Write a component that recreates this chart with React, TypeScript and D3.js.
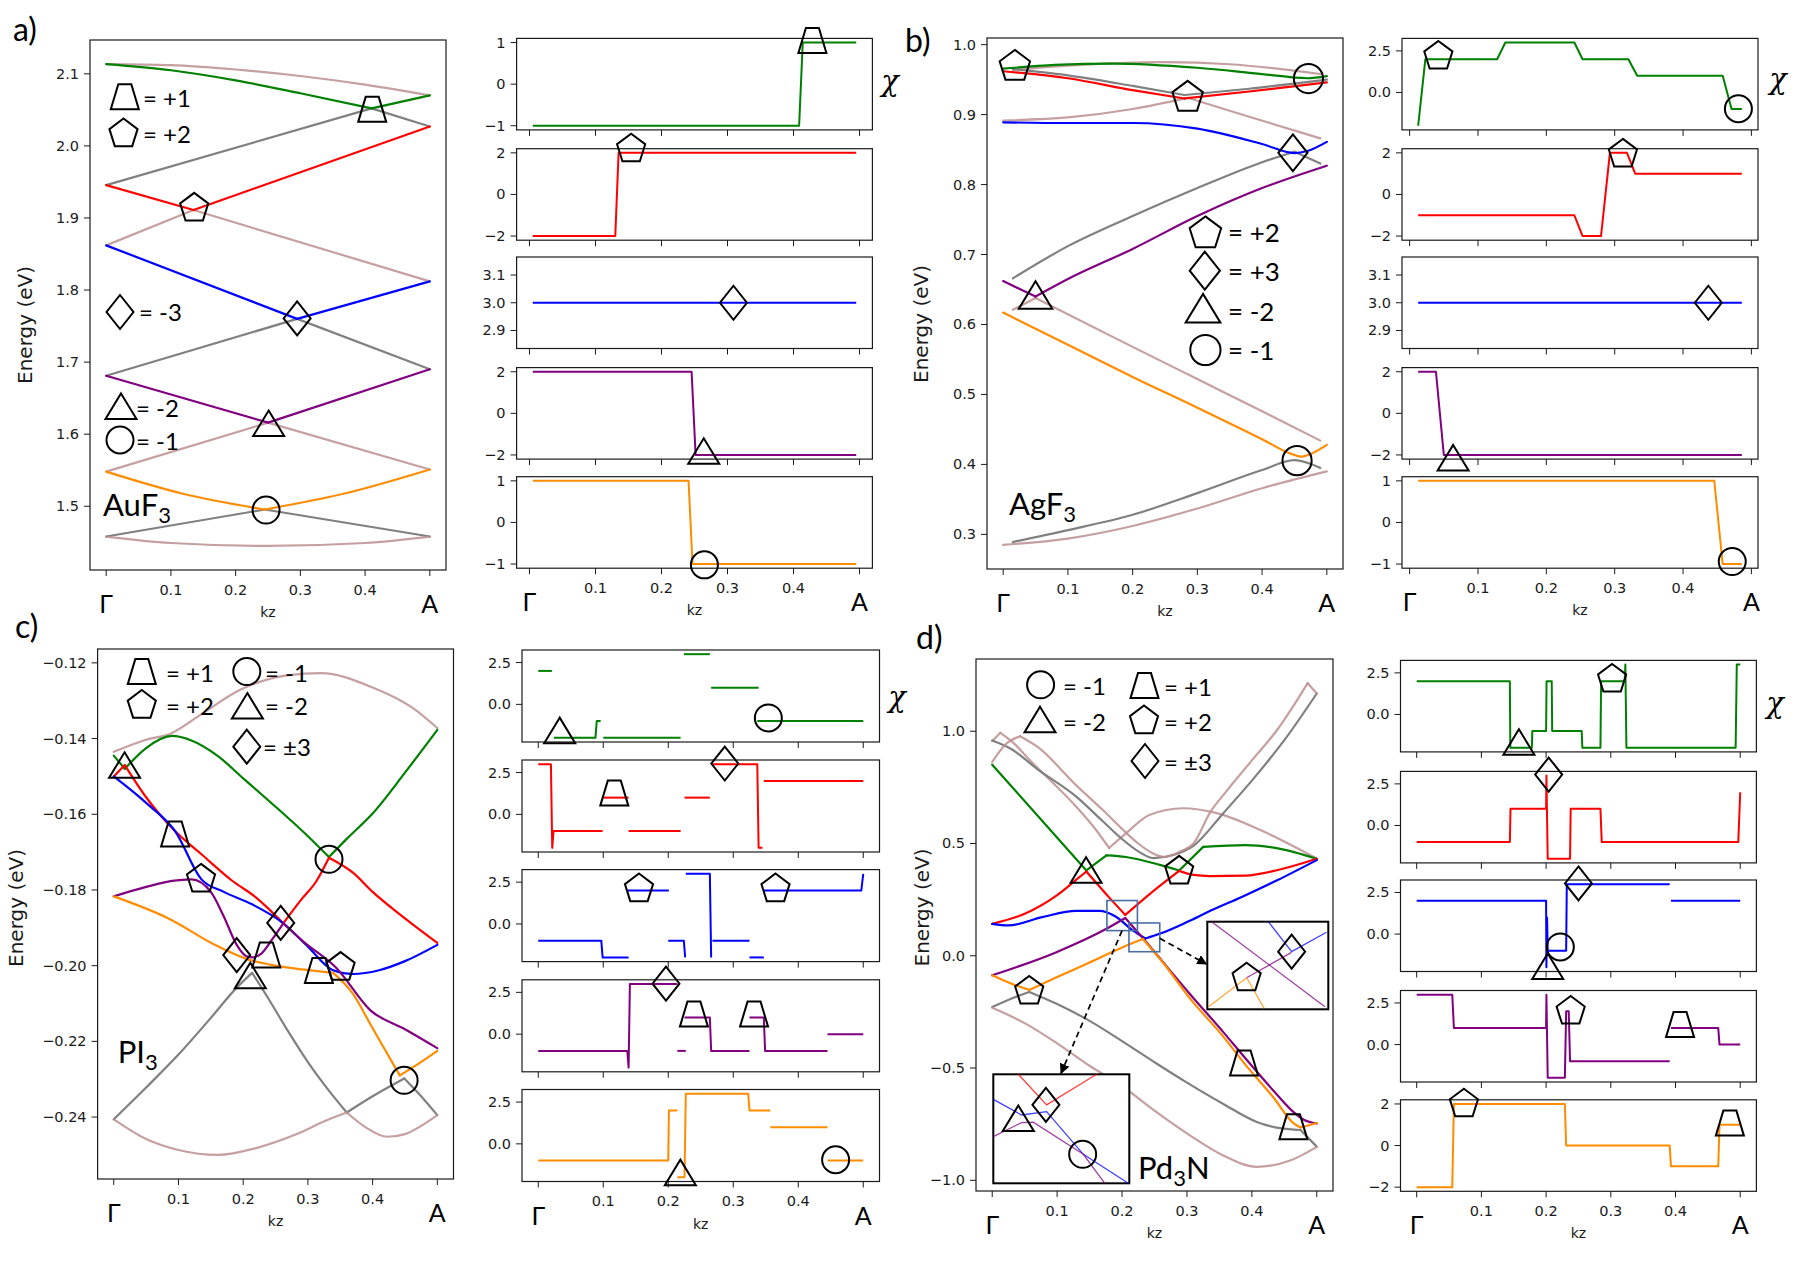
import React from "react";
import * as d3 from "d3";

type Pt = [number, number];
type Band = { s: string; p: Pt[][] };
type Mk = { m: string; k: number; v: number };
type ChiSub = { s: string; ticks: number[]; dec: number; segs: Pt[][] };
type ChiMk = { i: number; m: string; k: number; v: number };

// ---------------- shared axis values ----------------
const K_TICKS = [0, 0.1, 0.2, 0.3, 0.4, 0.5];
const K_LABELS = ["Γ", "0.1", "0.2", "0.3", "0.4", "A"];

// ---------------- (a) AuF3 ----------------
const aYTicks = [1.5, 1.6, 1.7, 1.8, 1.9, 2.0, 2.1];
const aBands: Band[] = [
  { s: "brown", p: [[[0, 2.1135], [0.1, 2.112], [0.2, 2.106], [0.3, 2.097], [0.4, 2.085], [0.5, 2.07]]] },
  { s: "gray", p: [[[0, 1.9455], [0.41, 2.052]], [[0.41, 2.052], [0.5, 2.027]]] },
  { s: "brown", p: [[[0, 1.862], [0.135, 1.911]], [[0.135, 1.911], [0.5, 1.812]]] },
  { s: "gray", p: [[[0, 1.681], [0.295, 1.76]], [[0.295, 1.76], [0.5, 1.69]]] },
  { s: "brown", p: [[[0, 1.548], [0.25, 1.616]], [[0.25, 1.616], [0.5, 1.551]]] },
  { s: "gray", p: [[[0, 1.458], [0.245, 1.4955]], [[0.245, 1.4955], [0.5, 1.458]]] },
  { s: "brown", p: [[[0, 1.458], [0.1, 1.449], [0.25, 1.445], [0.4, 1.449], [0.5, 1.458]]] },
  { s: "green", p: [[[0, 2.1135], [0.1, 2.105], [0.2, 2.091], [0.3, 2.073], [0.41, 2.052]], [[0.41, 2.052], [0.5, 2.07]]] },
  { s: "red", p: [[[0, 1.9455], [0.135, 1.911]], [[0.135, 1.911], [0.5, 2.027]]] },
  { s: "blue", p: [[[0, 1.862], [0.295, 1.76]], [[0.295, 1.76], [0.5, 1.812]]] },
  { s: "purple", p: [[[0, 1.681], [0.25, 1.616]], [[0.25, 1.616], [0.5, 1.69]]] },
  { s: "orange", p: [[[0, 1.548], [0.12, 1.517], [0.245, 1.4955]], [[0.245, 1.4955], [0.37, 1.518], [0.5, 1.551]]] },
];
const aMarkers: Mk[] = [
  { m: "trap", k: 0.411, v: 2.0507 },
  { m: "pent", k: 0.136, v: 1.9155 },
  { m: "diam", k: 0.295, v: 1.7606 },
  { m: "tri", k: 0.251, v: 1.614 },
  { m: "circ", k: 0.247, v: 1.4947 },
];
const aChi: ChiSub[] = [
  { s: "green", ticks: [-1, 0, 1], dec: 0, segs: [[[0.005, -1], [0.4085, -1], [0.414, 1], [0.495, 1]]] },
  { s: "red", ticks: [-2, 0, 2], dec: 0, segs: [[[0.005, -2], [0.13, -2], [0.135, 2], [0.495, 2]]] },
  { s: "blue", ticks: [2.9, 3.0, 3.1], dec: 1, segs: [[[0.005, 3], [0.495, 3]]] },
  { s: "purple", ticks: [-2, 0, 2], dec: 0, segs: [[[0.005, 2], [0.2456, 2], [0.2517, -2], [0.495, -2]]] },
  { s: "orange", ticks: [-1, 0, 1], dec: 0, segs: [[[0.005, 1], [0.241, 1], [0.247, -1], [0.495, -1]]] },
];
const aChiMarkers: ChiMk[] = [
  { i: 0, m: "trap", k: 0.4286, v: 1.05 },
  { i: 1, m: "pent", k: 0.154, v: 2.25 },
  { i: 2, m: "diam", k: 0.309, v: 3.0 },
  { i: 3, m: "tri", k: 0.264, v: -1.85 },
  { i: 4, m: "circ", k: 0.265, v: -1.02 },
];
const aLegend = [
  { m: "trap", t: "= +1" },
  { m: "pent", t: "= +2" },
  { m: "diam", t: "= -3" },
  { m: "tri", t: "= -2" },
  { m: "circ", t: "= -1" },
];

// ---------------- (b) AgF3 ----------------
const bYTicks = [0.3, 0.4, 0.5, 0.6, 0.7, 0.8, 0.9, 1.0];
const bBands: Band[] = [
  { s: "brown", p: [[[0.015, 0.964], [0.1, 0.97], [0.25, 0.975], [0.35, 0.972], [0.42, 0.966], [0.49, 0.958]]] },
  { s: "gray", p: [[[0.015, 0.965], [0.1, 0.956], [0.2, 0.941], [0.28, 0.928]], [[0.28, 0.928], [0.38, 0.937], [0.5, 0.95]]] },
  { s: "brown", p: [[[0, 0.8916], [0.1, 0.896], [0.2, 0.908], [0.285, 0.924]], [[0.285, 0.924], [0.38, 0.897], [0.49, 0.866]]] },
  { s: "gray", p: [[[0.015, 0.666], [0.1, 0.712], [0.2, 0.755], [0.3, 0.795], [0.4, 0.832], [0.45, 0.847]], [[0.45, 0.847], [0.49, 0.83]]] },
  { s: "brown", p: [[[0.015, 0.621], [0.05, 0.638]], [[0.05, 0.638], [0.2, 0.568], [0.3, 0.522], [0.4, 0.476], [0.49, 0.434]]] },
  { s: "gray", p: [[[0.015, 0.289], [0.1, 0.306], [0.2, 0.328], [0.3, 0.359], [0.4, 0.392], [0.45, 0.406], [0.49, 0.395]]] },
  { s: "brown", p: [[[0, 0.285], [0.1, 0.294], [0.2, 0.312], [0.3, 0.337], [0.4, 0.366], [0.5, 0.39]]] },
  { s: "green", p: [[[0, 0.9656], [0.08, 0.971], [0.17, 0.973], [0.3, 0.967], [0.4, 0.958], [0.47, 0.952], [0.5, 0.955]]] },
  { s: "red", p: [[[0, 0.962], [0.1, 0.952], [0.2, 0.935], [0.28, 0.923]], [[0.28, 0.923], [0.38, 0.933], [0.5, 0.946]]] },
  { s: "blue", p: [[[0, 0.889], [0.1, 0.888], [0.2, 0.888], [0.3, 0.88], [0.4, 0.858], [0.45, 0.845], [0.47, 0.848], [0.5, 0.861]]] },
  { s: "purple", p: [[[0, 0.662], [0.05, 0.64]], [[0.05, 0.64], [0.1, 0.665], [0.2, 0.708], [0.3, 0.755], [0.4, 0.795], [0.5, 0.827]]] },
  { s: "orange", p: [[[0, 0.617], [0.1, 0.571], [0.2, 0.525], [0.3, 0.481], [0.4, 0.436], [0.445, 0.415], [0.46, 0.411], [0.475, 0.415], [0.5, 0.428]]] },
];
const bMarkers: Mk[] = [
  { m: "pent", k: 0.018, v: 0.971 },
  { m: "pent", k: 0.285, v: 0.9267 },
  { m: "circ", k: 0.4716, v: 0.9515 },
  { m: "diam", k: 0.4476, v: 0.8454 },
  { m: "tri", k: 0.05, v: 0.641 },
  { m: "circ", k: 0.454, v: 0.4054 },
];
const bChi: ChiSub[] = [
  { s: "green", ticks: [0, 2.5], dec: 1, segs: [[[0.0125, -2], [0.023, 2], [0.128, 2], [0.14, 3], [0.241, 3], [0.253, 2], [0.32, 2], [0.333, 1], [0.458, 1], [0.471, -1], [0.486, -1]]] },
  { s: "red", ticks: [-2, 0, 2], dec: 0, segs: [[[0.0125, -1], [0.241, -1], [0.253, -2], [0.28, -2], [0.293, 2], [0.318, 2], [0.33, 1], [0.486, 1]]] },
  { s: "blue", ticks: [2.9, 3.0, 3.1], dec: 1, segs: [[[0.0125, 3], [0.486, 3]]] },
  { s: "purple", ticks: [-2, 0, 2], dec: 0, segs: [[[0.0125, 2], [0.0385, 2], [0.05, -2], [0.486, -2]]] },
  { s: "orange", ticks: [-1, 0, 1], dec: 0, segs: [[[0.0125, 1], [0.4457, 1], [0.458, -1], [0.486, -1]]] },
];
const bChiMarkers: ChiMk[] = [
  { i: 0, m: "pent", k: 0.042, v: 2.26 },
  { i: 0, m: "circ", k: 0.481, v: -0.98 },
  { i: 1, m: "pent", k: 0.312, v: 2.0 },
  { i: 2, m: "diam", k: 0.437, v: 3.0 },
  { i: 3, m: "tri", k: 0.0636, v: -2.17 },
  { i: 4, m: "circ", k: 0.472, v: -0.94 },
];
const bLegend = [
  { m: "pent", t: "= +2" },
  { m: "diam", t: "= +3" },
  { m: "tri", t: "= -2" },
  { m: "circ", t: "= -1" },
];

// ---------------- (c) PI3 ----------------
const cYTicks = [-0.24, -0.22, -0.2, -0.18, -0.16, -0.14, -0.12];
const cBands: Band[] = [
  { s: "brown", p: [[[0, -0.1435], [0.046, -0.1405], [0.09, -0.1385], [0.135, -0.1336], [0.197, -0.127], [0.268, -0.1233], [0.32, -0.1227], [0.4, -0.1265], [0.463, -0.132], [0.5, -0.1372]]] },
  { s: "gray", p: [
    [[0, -0.2406], [0.05, -0.2322], [0.1, -0.2235], [0.15, -0.2138], [0.19, -0.2058], [0.2138, -0.2019]],
    [[0.2138, -0.2019], [0.24, -0.209], [0.27, -0.2175], [0.3, -0.2255], [0.33, -0.2325], [0.36, -0.2388]],
    [[0.36, -0.2388], [0.4, -0.2345], [0.449, -0.2298]],
    [[0.449, -0.2298], [0.475, -0.2345], [0.5, -0.2395]]] },
  { s: "brown", p: [
    [[0, -0.2406], [0.05, -0.2458], [0.1, -0.2487], [0.161, -0.25], [0.22, -0.2482], [0.28, -0.2447], [0.33, -0.2408], [0.36, -0.2388]],
    [[0.36, -0.2388], [0.39, -0.2428], [0.4225, -0.2452], [0.45, -0.2445], [0.48, -0.2418], [0.5, -0.2395]]] },
  { s: "green", p: [
    [[0, -0.1445], [0.017, -0.148]],
    [[0.017, -0.148], [0.05, -0.1425], [0.09, -0.1393], [0.12, -0.1405], [0.16, -0.1445], [0.2, -0.1505], [0.25, -0.158], [0.3, -0.1658], [0.3325, -0.1713]],
    [[0.3325, -0.1713], [0.36, -0.1665], [0.4, -0.1598], [0.45, -0.149], [0.5, -0.1377]]] },
  { s: "red", p: [
    [[0, -0.15], [0.017, -0.147]],
    [[0.017, -0.147], [0.05, -0.1555], [0.095, -0.1645], [0.135, -0.1705], [0.1825, -0.1775], [0.22, -0.182], [0.262, -0.1888]],
    [[0.262, -0.1888], [0.29, -0.1825], [0.313, -0.1777], [0.3325, -0.1715]],
    [[0.3325, -0.1715], [0.37, -0.1755], [0.4, -0.1805], [0.45, -0.1875], [0.5, -0.194]]] },
  { s: "blue", p: [[[0, -0.15], [0.05, -0.157], [0.095, -0.1645], [0.1355, -0.1772], [0.17, -0.1805], [0.2138, -0.1838], [0.262, -0.1888], [0.3, -0.195], [0.339, -0.2012], [0.37, -0.2022], [0.41, -0.2012], [0.45, -0.1988], [0.5, -0.1945]]] },
  { s: "purple", p: [
    [[0, -0.1817], [0.05, -0.1792], [0.09, -0.1776], [0.12, -0.1772], [0.15, -0.1805], [0.17, -0.187], [0.19, -0.1945], [0.205, -0.1975], [0.215, -0.1978], [0.228, -0.1968], [0.245, -0.193], [0.262, -0.1888]],
    [[0.262, -0.1888], [0.292, -0.1935], [0.344, -0.2006], [0.3966, -0.2118], [0.45, -0.2168], [0.5, -0.2218]]] },
  { s: "orange", p: [
    [[0, -0.1817], [0.083, -0.1874], [0.161, -0.1949], [0.2085, -0.1984], [0.25, -0.2], [0.292, -0.201], [0.339, -0.2019]],
    [[0.339, -0.2019], [0.37, -0.2075], [0.3966, -0.2155], [0.42, -0.2225], [0.442, -0.229]],
    [[0.442, -0.229], [0.47, -0.226], [0.5, -0.2225]]] },
];
const cMarkers: Mk[] = [
  { m: "tri", k: 0.0167, v: -0.1472 },
  { m: "trap", k: 0.0948, v: -0.1652 },
  { m: "pent", k: 0.1348, v: -0.1768 },
  { m: "diam", k: 0.19, v: -0.1972 },
  { m: "trap", k: 0.2357, v: -0.1972 },
  { m: "tri", k: 0.211, v: -0.2028 },
  { m: "diam", k: 0.258, v: -0.1887 },
  { m: "trap", k: 0.317, v: -0.2013 },
  { m: "pent", k: 0.3505, v: -0.2001 },
  { m: "circ", k: 0.3326, v: -0.1719 },
  { m: "circ", k: 0.4487, v: -0.2303 },
];
const cChi: ChiSub[] = [
  { s: "green", ticks: [0, 2.5], dec: 1, segs: [
    [[0, 2], [0.021, 2]],
    [[0.024, -2], [0.088, -2], [0.09, -1], [0.096, -1]],
    [[0.1, -2], [0.219, -2]],
    [[0.224, 3], [0.264, 3]],
    [[0.266, 1], [0.339, 1]],
    [[0.337, -1], [0.5, -1]]] },
  { s: "red", ticks: [0, 2.5], dec: 1, segs: [
    [[0, 3], [0.0195, 3], [0.0215, -2], [0.0235, -1], [0.099, -1]],
    [[0.099, 1], [0.139, 1]],
    [[0.139, -1], [0.219, -1]],
    [[0.225, 1], [0.264, 1]],
    [[0.268, 3], [0.337, 3], [0.339, -2], [0.345, -2]],
    [[0.347, 2], [0.5, 2]]] },
  { s: "blue", ticks: [0, 2.5], dec: 1, segs: [
    [[0, -1], [0.097, -1], [0.099, -2], [0.139, -2]],
    [[0.137, 2], [0.201, 2]],
    [[0.2, -1], [0.224, -1], [0.226, -2]],
    [[0.227, 3], [0.264, 3], [0.266, -2]],
    [[0.268, -1], [0.325, -1]],
    [[0.325, -2], [0.347, -2]],
    [[0.347, 2], [0.497, 2], [0.5, 3]]] },
  { s: "purple", ticks: [0, 2.5], dec: 1, segs: [
    [[0, -1], [0.137, -1], [0.139, -2], [0.141, 3], [0.214, 3]],
    [[0.214, -1], [0.227, -1]],
    [[0.225, 1], [0.264, 1], [0.266, -1], [0.325, -1]],
    [[0.325, 1], [0.347, 1], [0.349, -1], [0.445, -1]],
    [[0.445, 0], [0.5, 0]]] },
  { s: "orange", ticks: [0, 2.5], dec: 1, segs: [
    [[0, -1], [0.2, -1], [0.201, 2], [0.214, 2]],
    [[0.214, -2], [0.225, -2], [0.227, 3], [0.323, 3], [0.325, 2], [0.357, 2]],
    [[0.357, 1], [0.445, 1]],
    [[0.445, -1], [0.5, -1]]] },
];
const cChiMarkers: ChiMk[] = [
  { i: 0, m: "tri", k: 0.033, v: -1.6 },
  { i: 0, m: "circ", k: 0.354, v: -0.81 },
  { i: 1, m: "trap", k: 0.117, v: 1.27 },
  { i: 1, m: "diam", k: 0.287, v: 3.04 },
  { i: 2, m: "pent", k: 0.155, v: 2.18 },
  { i: 2, m: "pent", k: 0.365, v: 2.18 },
  { i: 3, m: "diam", k: 0.1965, v: 3.02 },
  { i: 3, m: "trap", k: 0.2395, v: 1.2 },
  { i: 3, m: "trap", k: 0.332, v: 1.2 },
  { i: 4, m: "tri", k: 0.2186, v: -1.75 },
  { i: 4, m: "circ", k: 0.4575, v: -0.95 },
];
const cLegend = [
  { m: "trap", t: "= +1" },
  { m: "circ", t: "= -1" },
  { m: "pent", t: "= +2" },
  { m: "tri", t: "= -2" },
  { m: "diam", t: "= ±3" },
];

// ---------------- (d) Pd3N ----------------
const dYTicks = [-1.0, -0.5, 0.0, 0.5, 1.0];
const dBands: Band[] = [
  { s: "brown", p: [
    [[0, 0.956], [0.0125, 0.993]],
    [[0.0125, 0.993], [0.03, 0.955], [0.06, 0.865], [0.129, 0.665], [0.16, 0.56], [0.18, 0.48]],
    [[0.18, 0.48], [0.206, 0.545], [0.242, 0.627], [0.294, 0.657], [0.346, 0.635], [0.413, 0.56], [0.5, 0.433]]] },
  { s: "gray", p: [[[0, 0.959], [0.03, 0.92], [0.07, 0.83], [0.129, 0.71], [0.17, 0.6], [0.2, 0.52], [0.225, 0.465], [0.248, 0.435], [0.28, 0.45], [0.31, 0.49], [0.356, 0.635], [0.4, 0.78], [0.45, 0.96], [0.5, 1.168]]] },
  { s: "brown", p: [
    [[0, 0.863], [0.02, 0.94], [0.043, 0.978]],
    [[0.043, 0.978], [0.07, 0.93], [0.129, 0.76], [0.17, 0.65], [0.2, 0.565], [0.225, 0.5], [0.245, 0.46], [0.265, 0.44], [0.29, 0.465], [0.31, 0.5], [0.336, 0.64], [0.36, 0.73], [0.4, 0.87], [0.44, 1.01], [0.47, 1.14], [0.486, 1.214]],
    [[0.486, 1.214], [0.5, 1.168]]] },
  { s: "gray", p: [
    [[0, -0.228], [0.03, -0.19], [0.057, -0.161]],
    [[0.057, -0.161], [0.1, -0.215], [0.15, -0.29], [0.2, -0.38], [0.253, -0.48], [0.3, -0.565], [0.356, -0.66], [0.4075, -0.74], [0.4436, -0.768], [0.475, -0.776]],
    [[0.475, -0.776], [0.5, -0.85]]] },
  { s: "brown", p: [[[0, -0.232], [0.05, -0.3], [0.1, -0.39], [0.15, -0.49], [0.2, -0.58], [0.25, -0.69], [0.3045, -0.8], [0.356, -0.89], [0.4075, -0.94], [0.459, -0.912], [0.5, -0.851]]] },
  { s: "green", p: [
    [[0, 0.851], [0.145, 0.38]],
    [[0.145, 0.38], [0.176, 0.447]],
    [[0.176, 0.447], [0.206, 0.44], [0.258, 0.405], [0.288, 0.38]],
    [[0.288, 0.38], [0.325, 0.485]],
    [[0.325, 0.485], [0.39, 0.493], [0.44, 0.478], [0.5, 0.432]]] },
  { s: "red", p: [
    [[0, 0.142], [0.05, 0.187], [0.1, 0.27], [0.13, 0.34], [0.145, 0.375]],
    [[0.145, 0.375], [0.18, 0.26], [0.205, 0.182]],
    [[0.205, 0.182], [0.243, 0.276], [0.288, 0.378]],
    [[0.288, 0.378], [0.31, 0.36], [0.335, 0.355], [0.39, 0.357], [0.44, 0.382], [0.5, 0.432]]] },
  { s: "blue", p: [
    [[0, 0.142], [0.025, 0.135], [0.077, 0.172], [0.129, 0.2], [0.165, 0.2], [0.19, 0.175], [0.217, 0.112], [0.236, 0.077]],
    [[0.236, 0.077], [0.26, 0.1], [0.3, 0.15], [0.336, 0.2], [0.387, 0.265], [0.439, 0.336], [0.5, 0.426]]] },
  { s: "purple", p: [
    [[0, -0.087], [0.098, 0.015], [0.176, 0.12], [0.205, 0.168]],
    [[0.205, 0.168], [0.2375, 0.06], [0.268, -0.045], [0.3045, -0.17], [0.356, -0.34], [0.388, -0.45], [0.433, -0.6], [0.46, -0.685], [0.48, -0.73], [0.5, -0.747]]] },
  { s: "orange", p: [
    [[0, -0.087], [0.03, -0.125], [0.057, -0.152]],
    [[0.057, -0.152], [0.1, -0.095], [0.15, -0.03], [0.2, 0.037], [0.232, 0.075]],
    [[0.232, 0.075], [0.263, -0.03], [0.3045, -0.19], [0.356, -0.36], [0.388, -0.478], [0.433, -0.63], [0.464, -0.745], [0.475, -0.765]],
    [[0.475, -0.765], [0.5, -0.745]]] },
];
const dMarkers: Mk[] = [
  { m: "tri", k: 0.1446, v: 0.379 },
  { m: "pent", k: 0.288, v: 0.383 },
  { m: "pent", k: 0.057, v: -0.152 },
  { m: "trap", k: 0.388, v: -0.478 },
  { m: "trap", k: 0.464, v: -0.762 },
];
const dChi: ChiSub[] = [
  { s: "green", ticks: [0, 2.5], dec: 1, segs: [[[0, 2], [0.144, 2], [0.1447, -2], [0.178, -2], [0.1787, -1], [0.2, -1], [0.2007, 2], [0.2087, 2], [0.2094, -1], [0.255, -1], [0.256, -2], [0.284, -2], [0.285, 2], [0.3215, 2], [0.3225, 3], [0.3241, -2], [0.4929, -2], [0.4947, 3], [0.5, 3]]] },
  { s: "red", ticks: [0, 2.5], dec: 1, segs: [[[0, -1], [0.144, -1], [0.145, 1], [0.2, 1], [0.2005, 3], [0.2025, -2], [0.237, -2], [0.238, 1], [0.284, 1], [0.286, -1], [0.497, -1], [0.5, 2]]] },
  { s: "blue", ticks: [0, 2.5], dec: 1, segs: [
    [[0, 2], [0.2, 2], [0.2005, -2], [0.2015, 1], [0.2025, -1], [0.231, -1], [0.232, 3], [0.391, 3]],
    [[0.393, 2], [0.5, 2]]] },
  { s: "purple", ticks: [0, 2.5], dec: 1, segs: [
    [[0, 3], [0.055, 3], [0.0575, 1], [0.2, 1], [0.2005, 3], [0.2025, -2], [0.229, -2], [0.231, 2], [0.235, 2], [0.237, -1], [0.391, -1]],
    [[0.393, 1], [0.466, 1], [0.468, 0], [0.5, 0]]] },
  { s: "orange", ticks: [-2, 0, 2], dec: 0, segs: [[[0, -2], [0.055, -2], [0.0575, 2], [0.229, 2], [0.231, 0], [0.391, 0], [0.393, -1], [0.466, -1], [0.468, 1], [0.5, 1]]] },
];
const dChiMarkers: ChiMk[] = [
  { i: 0, m: "tri", k: 0.158, v: -1.7 },
  { i: 0, m: "pent", k: 0.302, v: 2.2 },
  { i: 1, m: "diam", k: 0.204, v: 3.06 },
  { i: 2, m: "tri", k: 0.2025, v: -1.98 },
  { i: 2, m: "circ", k: 0.222, v: -0.77 },
  { i: 2, m: "diam", k: 0.25, v: 3.04 },
  { i: 3, m: "pent", k: 0.238, v: 2.08 },
  { i: 3, m: "trap", k: 0.407, v: 1.2 },
  { i: 4, m: "pent", k: 0.073, v: 2.06 },
  { i: 4, m: "trap", k: 0.484, v: 1.08 },
];
const dLegend = [
  { m: "circ", t: "= -1" },
  { m: "trap", t: "= +1" },
  { m: "tri", t: "= -2" },
  { m: "pent", t: "= +2" },
  { m: "diam", t: "= ±3" },
];
// zoom boxes (k, E) and inset contents (fractions of inset box)
const dZoomBoxes: [Pt, Pt][] = [
  [[0.1767, 0.246], [0.2237, 0.112]],
  [[0.2107, 0.146], [0.2581, 0.018]],
];
const dInsetRight = [
  { s: "purple", p: [[0.036, 0], [0.972, 0.97]] as Pt[] },
  { s: "blue", p: [[0.504, 0], [0.697, 0.342]] as Pt[] },
  { s: "blue", p: [[0.697, 0.342], [0.985, 0.12]] as Pt[] },
  { s: "purple", p: [[0.325, 0.64], [0.697, 0.35]] as Pt[] },
  { s: "orange", p: [[0.01, 0.97], [0.325, 0.64]] as Pt[] },
  { s: "orange", p: [[0.325, 0.64], [0.47, 0.99]] as Pt[] },
];
const dInsetRightMarkers = [
  { m: "pent", u: 0.325, v: 0.627 },
  { m: "diam", u: 0.697, v: 0.342 },
];
const dInsetLeft = [
  { s: "red", p: [[0.184, 0], [0.392, 0.28], [0.76, 0]] as Pt[] },
  { s: "blue", p: [[0, 0.23], [0.208, 0.373], [0.392, 0.343], [0.662, 0.734], [0.993, 1]] as Pt[] },
  { s: "purple", p: [[0, 0.572], [0.208, 0.443], [0.294, 0.44], [0.662, 0.734], [0.82, 1]] as Pt[] },
];
const dInsetLeftMarkers = [
  { m: "tri", u: 0.184, v: 0.41 },
  { m: "diam", u: 0.387, v: 0.28 },
  { m: "circ", u: 0.657, v: 0.734 },
];

// ---------------- styles ----------------
const COLOR: Record<string, string> = {
  green: "#008000", red: "#ff0000", blue: "#0000ff", purple: "#800080",
  orange: "#ff8c00", gray: "#808080", brown: "#bc8f8f",
};
const INK = "#1a1a1a";
const ANNOT_FONT = "Lato, 'DejaVu Sans', sans-serif";
const TICK_FS = 14.5;

// ---------------- layout ----------------
const LAYOUT: Record<string, any> = {
  a: {
    main: { x0: 90, x1: 446, y0: 40, y1: 570 },
    chi: { x0: 516.6, x1: 872.4, tops: [38.4, 148.7, 257, 367.6, 476.7], h: 91.5 },
    panel: { t: "a)", x: 13, y: 41 },
    name: { base: "AuF", sub: "3", tail: "", x: 103, y: 516 },
    energy: { x: 25, y: 325 },
    chiLabel: { x: 890, y: 81 },
    legend: [[124.8, 96.8, 143, 97.5], [123.5, 132.5, 143, 133], [120, 312, 139, 311], [121, 407, 136, 407], [120, 440, 136, 440]],
    legScale: 1,
    mkScale: 1,
  },
  b: {
    main: { x0: 987, x1: 1343, y0: 38, y1: 569 },
    chi: { x0: 1402, x1: 1758, tops: [38.4, 148.7, 257, 367.6, 476.7], h: 91.5 },
    panel: { t: "b)", x: 905, y: 52 },
    name: { base: "AgF", sub: "3", tail: "", x: 1009, y: 515 },
    energy: { x: 921, y: 324 },
    chiLabel: { x: 1778, y: 79 },
    legend: [[1205.4, 232, 1228, 232], [1204.8, 270.7, 1228, 271], [1203, 309, 1228, 311], [1205.4, 350, 1228, 350]],
    legScale: 1.12,
    mkScale: 1.08,
  },
  c: {
    main: { x0: 97.6, x1: 453.5, y0: 649, y1: 1179 },
    chi: { x0: 522, x1: 879.5, tops: [650, 760, 869.6, 979.8, 1089.5], h: 92 },
    panel: { t: "c)", x: 15, y: 638 },
    name: { base: "PI", sub: "3", tail: "", x: 117.7, y: 1063 },
    energy: { x: 16, y: 908 },
    chiLabel: { x: 897, y: 697 },
    legend: [[141.8, 671.6, 166, 672], [246.8, 671.6, 265, 672], [141.8, 704, 166, 705], [247.4, 706.6, 265, 705], [246.8, 746.7, 263, 746]],
    legScale: 1,
    mkScale: 1,
  },
  d: {
    main: { x0: 976, x1: 1333, y0: 659, y1: 1191 },
    chi: { x0: 1400.5, x1: 1756.4, tops: [660.4, 771.4, 880, 990.5, 1099.8], h: 91.5 },
    panel: { t: "d)", x: 916, y: 649 },
    name: { base: "Pd", sub: "3", tail: "N", x: 1138, y: 1179 },
    energy: { x: 921.5, y: 907.5 },
    chiLabel: { x: 1775, y: 703 },
    legend: [[1040.6, 684.8, 1063, 685], [1144.5, 685.6, 1164, 686], [1040, 720.3, 1063, 721], [1144, 719.5, 1164, 721], [1145, 761, 1164, 761]],
    legScale: 1,
    mkScale: 1,
    insetRight: { x0: 1207.3, y0: 921.7, x1: 1328.3, y1: 1009.3 },
    insetLeft: { x0: 993.3, y0: 1074.3, x1: 1129.3, y1: 1183.3 },
    arrows: [[[0.2, 0.112], [0.106, -0.523]], [[0.2581, 0.0775], [0.33, -0.037]]],
  },
};

// ---------------- helpers ----------------
function padExtent(vals: number[]): [number, number] {
  let lo = d3.min(vals) as number;
  let hi = d3.max(vals) as number;
  if (hi - lo < 1e-9) {
    lo -= 0.05 * Math.abs(lo);
    hi += 0.05 * Math.abs(hi);
  }
  const pad = (hi - lo) * 0.05;
  return [lo - pad, hi + pad];
}
function fmt(v: number, dec: number) {
  return v.toFixed(dec).replace("-", "\u2212");
}
function shapePath(shape: string, s: number): string {
  if (shape === "trap") return `M${-6.5 * s},${-12.5 * s}L${6.5 * s},${-12.5 * s}L${14 * s},${12.5 * s}L${-14 * s},${12.5 * s}Z`;
  if (shape === "pent") {
    const r = 14.8 * s;
    const pts = d3.range(5).map((i) => {
      const a = ((-90 + 72 * i) * Math.PI) / 180;
      return [r * Math.cos(a), r * Math.sin(a) * 1.03 + 1.3 * s];
    });
    return "M" + pts.map((p) => p[0].toFixed(2) + "," + p[1].toFixed(2)).join("L") + "Z";
  }
  if (shape === "diam") return `M0,${-17 * s}L${13.5 * s},0L0,${17 * s}L${-13.5 * s},0Z`;
  if (shape === "tri") return `M0,${-13.5 * s}L${15.5 * s},${12 * s}L${-15.5 * s},${12 * s}Z`;
  const r = 13.5 * s;
  return `M${r},0A${r},${r} 0 1,1 ${-r},0A${r},${r} 0 1,1 ${r},0Z`;
}
function Marker({ m, x, y, s = 1 }: { m: string; x: number; y: number; s?: number }) {
  return <path d={shapePath(m, s)} transform={`translate(${x},${y})`} fill="none" stroke="#000" strokeWidth={2} strokeLinejoin="miter" />;
}

function Frame({ x, y, yTicks, yDec, xLabels }: { x: any; y: any; yTicks: number[]; yDec: number; xLabels: boolean }) {
  const [x0, x1] = x.range();
  const [y1, y0] = y.range();
  return (
    <g>
      <rect x={x0} y={y0} width={x1 - x0} height={y1 - y0} fill="none" stroke={INK} strokeWidth={1.2} />
      {yTicks.map((t) => (
        <g key={"y" + t}>
          <line x1={x0 - 6} x2={x0} y1={y(t)} y2={y(t)} stroke={INK} strokeWidth={1} />
          <text x={x0 - 11} y={y(t)} textAnchor="end" dominantBaseline="central" fontSize={TICK_FS} fill={INK}>
            {fmt(t, yDec)}
          </text>
        </g>
      ))}
      {K_TICKS.map((t, i) => (
        <g key={"x" + i}>
          <line x1={x(t)} x2={x(t)} y1={y1} y2={y1 + 6} stroke={INK} strokeWidth={1} />
          {xLabels &&
            (i === 0 || i === K_TICKS.length - 1 ? (
              <text x={x(t)} y={y1 + 43} textAnchor="middle" fontSize={25} fontFamily={ANNOT_FONT} fill="#000">
                {K_LABELS[i]}
              </text>
            ) : (
              <text x={x(t)} y={y1 + 24.5} textAnchor="middle" fontSize={TICK_FS} fill={INK}>
                {K_LABELS[i]}
              </text>
            ))}
        </g>
      ))}
      {xLabels && (
        <text x={(x0 + x1) / 2} y={y1 + 47} textAnchor="middle" fontSize={14} fill={INK}>
          kz
        </text>
      )}
    </g>
  );
}

function BandPlot({ L, bands, markers, yTicks, yDec }: { L: any; bands: Band[]; markers: Mk[]; yTicks: number[]; yDec: number }) {
  const allK = bands.flatMap((b) => b.p.flat().map((q) => q[0]));
  const allE = bands.flatMap((b) => b.p.flat().map((q) => q[1]));
  const x = d3.scaleLinear().domain(padExtent(allK)).range([L.main.x0, L.main.x1]);
  const y = d3.scaleLinear().domain(padExtent(allE)).range([L.main.y1, L.main.y0]);
  const line = d3
    .line<Pt>()
    .x((d) => x(d[0]))
    .y((d) => y(d[1]))
    .curve(d3.curveMonotoneX);
  return (
    <g>
      {bands.map((b, bi) =>
        b.p.map((piece, pi) => (
          <path key={bi + "-" + pi} d={line(piece) as string} fill="none" stroke={COLOR[b.s]} strokeWidth={2.2} strokeOpacity={b.s === "brown" ? 0.85 : 1} strokeLinecap="round" strokeLinejoin="round" />
        ))
      )}
      <Frame x={x} y={y} yTicks={yTicks} yDec={yDec} xLabels={true} />
      {markers.map((mk, i) => (
        <Marker key={i} m={mk.m} x={x(mk.k)} y={y(mk.v)} s={L.mkScale} />
      ))}
      {L.insetRight && <DExtras L={L} x={x} y={y} />}
    </g>
  );
}

function InsetBox({ box, lines, marks }: { box: any; lines: { s: string; p: Pt[] }[]; marks: { m: string; u: number; v: number }[] }) {
  const u = d3.scaleLinear().domain([0, 1]).range([box.x0, box.x1]);
  const v = d3.scaleLinear().domain([0, 1]).range([box.y0, box.y1]);
  const line = d3
    .line<Pt>()
    .x((d) => u(d[0]))
    .y((d) => v(d[1]));
  return (
    <g>
      <rect x={box.x0} y={box.y0} width={box.x1 - box.x0} height={box.y1 - box.y0} fill="#fff" stroke="#000" strokeWidth={2} />
      {lines.map((l, i) => (
        <path key={i} d={line(l.p) as string} fill="none" stroke={COLOR[l.s]} strokeWidth={1.3} strokeOpacity={0.75} />
      ))}
      {marks.map((mk, i) => (
        <Marker key={i} m={mk.m} x={u(mk.u)} y={v(mk.v)} />
      ))}
    </g>
  );
}

function DExtras({ L, x, y }: { L: any; x: any; y: any }) {
  return (
    <g>
      {dZoomBoxes.map((b, i) => (
        <rect key={i} x={x(b[0][0])} y={y(b[0][1])} width={x(b[1][0]) - x(b[0][0])} height={y(b[1][1]) - y(b[0][1])} fill="none" stroke="#4a6fa5" strokeWidth={1.6} />
      ))}
      {L.arrows.map((a: Pt[], i: number) => (
        <line key={i} x1={x(a[0][0])} y1={y(a[0][1])} x2={x(a[1][0])} y2={y(a[1][1])} stroke="#000" strokeWidth={1.7} strokeDasharray="6,4" markerEnd="url(#ah)" />
      ))}
      <InsetBox box={L.insetRight} lines={dInsetRight} marks={dInsetRightMarkers} />
      <InsetBox box={L.insetLeft} lines={dInsetLeft} marks={dInsetLeftMarkers} />
    </g>
  );
}

function ChiStack({ L, subs, markers }: { L: any; subs: ChiSub[]; markers: ChiMk[] }) {
  const allK = subs.flatMap((s) => s.segs.flat().map((q) => q[0]));
  const x = d3.scaleLinear().domain(padExtent(allK)).range([L.chi.x0, L.chi.x1]);
  return (
    <g>
      {subs.map((sub, i) => {
        const top = L.chi.tops[i];
        const y = d3
          .scaleLinear()
          .domain(padExtent(sub.segs.flat().map((q) => q[1])))
          .range([top + L.chi.h, top]);
        const line = d3
          .line<Pt>()
          .x((d) => x(d[0]))
          .y((d) => y(d[1]));
        return (
          <g key={i}>
            {sub.segs.map((sg, j) => (
              <path key={j} d={line(sg) as string} fill="none" stroke={COLOR[sub.s]} strokeWidth={2} strokeLinejoin="round" />
            ))}
            <Frame x={x} y={y} yTicks={sub.ticks} yDec={sub.dec} xLabels={i === subs.length - 1} />
            {markers
              .filter((mk) => mk.i === i)
              .map((mk, j) => (
                <Marker key={j} m={mk.m} x={x(mk.k)} y={y(mk.v)} />
              ))}
          </g>
        );
      })}
    </g>
  );
}

function Panel({ L, bands, markers, yTicks, yDec, chi, chiMarkers, legend }: any) {
  return (
    <g>
      <BandPlot L={L} bands={bands} markers={markers} yTicks={yTicks} yDec={yDec} />
      <ChiStack L={L} subs={chi} markers={chiMarkers} />
      <text x={L.panel.x} y={L.panel.y} fontSize={32} fontFamily={ANNOT_FONT} fill="#000">
        {L.panel.t}
      </text>
      <text x={L.name.x} y={L.name.y} fontSize={31} fontFamily={ANNOT_FONT} fill="#000">
        {L.name.base}
        <tspan fontSize={22} dy={7}>
          {L.name.sub}
        </tspan>
        {L.name.tail && <tspan dy={-7} fontSize={31}>{L.name.tail}</tspan>}
      </text>
      <text transform={`translate(${L.energy.x},${L.energy.y}) rotate(-90)`} textAnchor="middle" dominantBaseline="central" fontSize={20} fill={INK}>
        Energy (eV)
      </text>
      <text x={L.chiLabel.x} y={L.chiLabel.y} textAnchor="middle" dominantBaseline="central" fontSize={29} fontStyle="italic" fontFamily="'DejaVu Serif', serif" fill="#000">
        χ
      </text>
      {legend.map((it: any, i: number) => {
        const p = L.legend[i];
        return (
          <g key={i}>
            <Marker m={it.m} x={p[0]} y={p[1]} s={L.legScale} />
            <text x={p[2]} y={p[3]} dominantBaseline="central" fontSize={24 * (L.legScale > 1 ? 1.08 : 1)} fontFamily={ANNOT_FONT} fill="#000">
              {it.t}
            </text>
          </g>
        );
      })}
    </g>
  );
}

export default function App() {
  return (
    <svg width={1800} height={1267} viewBox="0 0 1800 1267" style={{ position: "absolute", left: 0, top: 0, display: "block" }} fontFamily="'DejaVu Sans', sans-serif">
      <defs>
        <marker id="ah" viewBox="0 0 10 10" refX="9" refY="5" markerWidth="6" markerHeight="6" orient="auto">
          <path d="M0,0L10,5L0,10Z" fill="#000" />
        </marker>
      </defs>
      <rect x={0} y={0} width={1800} height={1267} fill="#fff" />
      <Panel L={LAYOUT.a} bands={aBands} markers={aMarkers} yTicks={aYTicks} yDec={1} chi={aChi} chiMarkers={aChiMarkers} legend={aLegend} />
      <Panel L={LAYOUT.b} bands={bBands} markers={bMarkers} yTicks={bYTicks} yDec={1} chi={bChi} chiMarkers={bChiMarkers} legend={bLegend} />
      <Panel L={LAYOUT.c} bands={cBands} markers={cMarkers} yTicks={cYTicks} yDec={2} chi={cChi} chiMarkers={cChiMarkers} legend={cLegend} />
      <Panel L={LAYOUT.d} bands={dBands} markers={dMarkers} yTicks={dYTicks} yDec={1} chi={dChi} chiMarkers={dChiMarkers} legend={dLegend} />
    </svg>
  );
}
